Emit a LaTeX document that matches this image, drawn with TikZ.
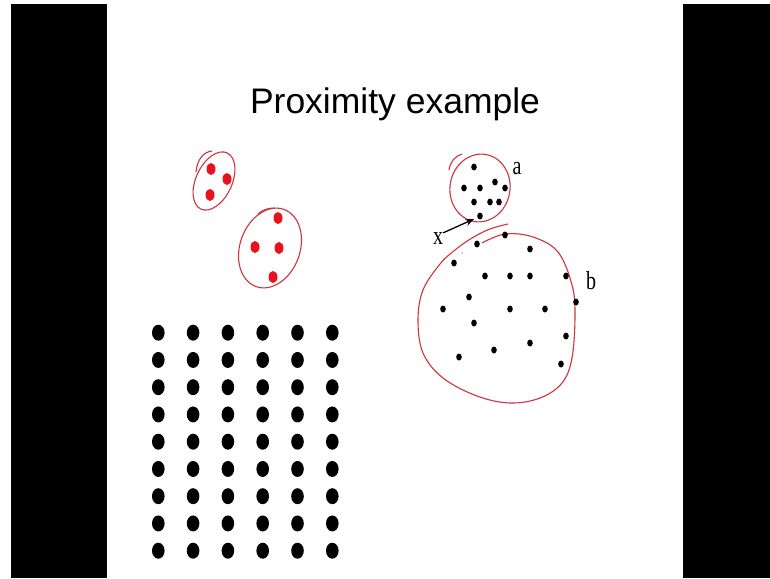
\documentclass[tikz,border=0pt]{standalone}
\usepackage{fontspec}
\setmainfont{Liberation Serif}
\newfontfamily\titlefont{Liberation Sans}
\usepackage{graphicx}
\usepackage{tikz}
\usetikzlibrary{arrows.meta,positioning}
\definecolor{penred}{HTML}{D2323E}
\definecolor{dotred}{HTML}{E8111E}
\definecolor{fadered}{HTML}{F2A0A8}
\tikzset{
  penline/.style={draw=penred,line width=1.1pt},
  reddot/.style={fill=dotred},
  griddot/.style={fill=black},
  smalldot/.style={fill=black},
  letter/.style={font=\fontsize{20}{22}\selectfont,inner sep=0pt},
  arrowthin/.style={-{Stealth[length=3mm,width=2.4mm]},line width=1.3pt,black},
}
\begin{document}
\begin{tikzpicture}[x=1pt,y=-1pt]
  \useasboundingbox (0,0) rectangle (770,578);
  \fill[white] (0,0) rectangle (770,578);
  \fill[black] (11,4) rectangle (107,578);
  \fill[black] (683,4) rectangle (770,578);
  \node[font=\titlefont\fontsize{35.5}{40}\selectfont,anchor=base]
    (title) at (395,113) {Proximity example};
  % regular grid of dots
  \foreach \i in {0,...,5}
    \foreach \j in {0,...,8}
      \fill[griddot] (158.3+34.8*\i,332.7+27.25*\j) ellipse (6.3 and 8);
  % two red groups
  \draw[penline,rotate around={-25:(214,181)}] (214,181) ellipse (18 and 31);
  \draw[penline] (196,172) .. controls (197,160) and (203,152) .. (212,151);
  \foreach \p in {(211,169),(227,179),(210,195)}
    \fill[reddot] \p ellipse (4.5 and 6);
  \draw[penline,rotate around={-20:(270,248)}] (270,248) ellipse (30 and 41);
  \draw[penline] (258,214) .. controls (262,210) and (268,208) .. (275,208);
  \foreach \p in {(278,218),(255,247),(279,248),(273,277)}
    \fill[reddot] \p ellipse (4.5 and 6);
  % cluster a
  \draw[penline,rotate around={-10:(480,188)}] (480,188) ellipse (30 and 34);
  \draw[penline] (449,170) .. controls (450,162) and (455,156) .. (462,154);
  \foreach \p in {(474,167),(464,188),(480,188),(495,182),(505,188),
                  (474,202),(490,202),(499,202),(480,216)}
    \fill[smalldot] \p ellipse (2.8 and 3.5);
  \node[letter] (la) at (517,169) {\scalebox{1}[1.3]{a}};
  % cluster b
  \draw[penline] plot[smooth,tension=0.6] coordinates {
    (482,243) (505,234) (533,237) (558,252) (572,285) (575,315)
    (572,358) (562,383) (540,398) (510,403) (477,396) (443,378)
    (423,353) (418,320) (423,290) (440,264) (455,250) (472,238)
    (490,229) (508,224)};
  \foreach \p in {(505,235),(477,244),(530,249),(454,263),(485,276),
                  (510,276),(530,276),(566,276),(469,297),(576,302),
                  (443,309),(510,309),(545,309),(474,323),(566,336),
                  (530,343),(494,350),(459,357),(561,364)}
    \fill[smalldot] \p ellipse (2.8 and 3.5);
  \fill[fadered] (462,253) circle (1);
  \node[letter] (lb) at (591,281) {\scalebox{1}[1.3]{b}};
  % point x
  \node[letter] (lx) at (438,239) {\scalebox{1}[1.3]{x}};
  \coordinate (xtip) at (474,219);
  \draw[arrowthin] (lx.north east) -- (xtip);
\end{tikzpicture}
\end{document}
